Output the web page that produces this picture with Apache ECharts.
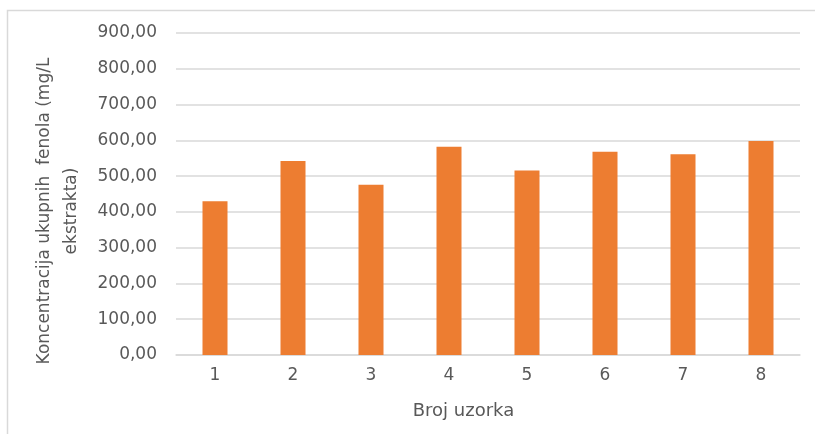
<!DOCTYPE html>
<html>
<head>
<meta charset="utf-8">
<script src="https://cdn.jsdelivr.net/npm/echarts@6/dist/echarts.min.js"></script>
<style>
html,body{margin:0;padding:0;background:#fff;}
#c{width:815px;height:434px;}
</style>
</head>
<body>
<div id="c"></div>
<script>
var categories = ['1', '2', '3', '4', '5', '6', '7', '8'];
var values = [430, 542, 476, 582, 516, 568, 561, 598];
var yTickValues = [0, 100, 200, 300, 400, 500, 600, 700, 800, 900];
var yTickLabels = ['0,00', '100,00', '200,00', '300,00', '400,00', '500,00', '600,00', '700,00', '800,00', '900,00'];
var xTitle = 'Broj uzorka';
var yTitle = 'Koncentracija ukupnih  fenola (mg/L\nekstrakta)';

var FONT = '"DejaVu Sans", "Liberation Sans", Arial, sans-serif';
var chart = echarts.init(document.getElementById('c'), null, {renderer: 'canvas'});
chart.setOption({
  animation: false,
  backgroundColor: '#fff',
  grid: {left: 176, right: 15, top: 33, bottom: 79, containLabel: false},
  xAxis: {
    type: 'category',
    data: categories,
    axisLine: {show: true, lineStyle: {color: '#d9d9d9', width: 1.5}},
    axisTick: {show: false},
    axisLabel: {color: '#595959', fontFamily: FONT, fontSize: 17, margin: 12}
  },
  yAxis: {
    type: 'value',
    min: 0, max: 900, interval: 100,
    axisLine: {show: false},
    axisTick: {show: false},
    splitLine: {show: true, lineStyle: {color: '#d9d9d9', width: 1.5}},
    axisLabel: {
      color: '#595959', fontFamily: FONT, fontSize: 17, margin: 19,
      formatter: function (v) {
        var i = yTickValues.indexOf(v);
        return i >= 0 ? yTickLabels[i] : '';
      }
    }
  },
  series: [{
    type: 'bar',
    data: values,
    barWidth: 25,
    itemStyle: {color: '#ED7D31'}
  }],
  graphic: [
    {
      type: 'rect', silent: true, z: -1,
      shape: {x: 7.5, y: 10.5, width: 1000, height: 1000},
      style: {fill: null, stroke: '#d9d9d9', lineWidth: 1.5}
    },
    {
      type: 'text', x: 463.5, y: 411.5,
      style: {text: xTitle, fill: '#595959', font: '18px ' + FONT, textAlign: 'center', textVerticalAlign: 'middle'}
    },
    {
      type: 'text', x: 58.5, y: 211, rotation: Math.PI / 2,
      style: {text: yTitle, fill: '#595959', font: '17px ' + FONT, textAlign: 'center', textVerticalAlign: 'middle', lineHeight: 27}
    }
  ]
});
</script>
</body>
</html>
